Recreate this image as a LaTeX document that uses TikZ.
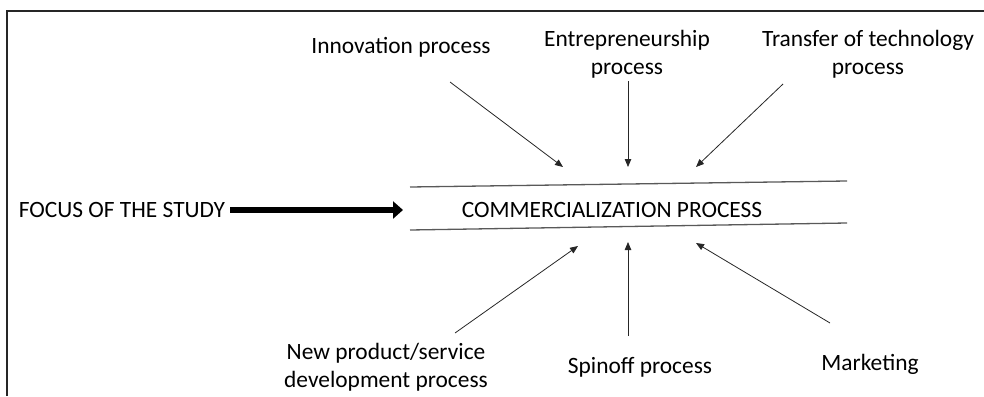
\documentclass[tikz,border=0pt]{standalone}
\usepackage{fontspec}
\setmainfont{Carlito}
\usetikzlibrary{arrows.meta}
\begin{document}
\begin{tikzpicture}[x=1pt,y=-1pt,
  lbl/.style={font=\fontsize{23.4}{28}\selectfont, align=center, inner sep=0pt},
  thin arrow/.style={draw=black!85, line width=0.8pt, -{Triangle[length=8pt,width=6.5pt]}},
  band/.style={draw=black!65, line width=1.3pt},
  frame/.style={draw=black!85, line width=2pt}]
\useasboundingbox (0,0) rectangle (984,396);
% frame
\draw[frame] (7,396) -- (7,11) -- (984,11);
% labels
\node[lbl] (inn) at (401,47) {Innovation process};
\node[lbl] (ent) at (627,54) {Entrepreneurship\\process};
\node[lbl] (tra) at (868,54) {Transfer of technology\\process};
\node[lbl] (foc) at (122,210) {FOCUS OF THE STUDY};
\node[lbl] (com) at (612,210) {COMMERCIALIZATION PROCESS};
\node[lbl] (npd) at (386,367) {New product/service\\development process};
\node[lbl] (spi) at (640,367) {Spinoff process};
\node[lbl] (mar) at (870,364) {Marketing};
% band lines
\coordinate (t1) at (410,187); \coordinate (t2) at (847,181);
\coordinate (b1) at (410,230); \coordinate (b2) at (847,223);
\draw[band] (t1) -- (t2);
\draw[band] (b1) -- (b2);
% arrow end points
\coordinate (innS) at (450,82);  \coordinate (innE) at (563,167);
\coordinate (entS) at (628,81);  \coordinate (entE) at (628,167);
\coordinate (traS) at (783,84);  \coordinate (traE) at (696,167);
\coordinate (npdS) at (455,333); \coordinate (npdE) at (578,246);
\coordinate (spiS) at (628,336); \coordinate (spiE) at (628,242);
\coordinate (marS) at (830,323); \coordinate (marE) at (696,243);
\draw[thin arrow] (innS) -- (innE);
\draw[thin arrow] (entS) -- (entE);
\draw[thin arrow] (traS) -- (traE);
\draw[thin arrow] (npdS) -- (npdE);
\draw[thin arrow] (spiS) -- (spiE);
\draw[thin arrow] (marS) -- (marE);
% thick arrow
\coordinate (focE) at (403,210);
\draw[line width=6.5pt, -{Triangle[length=10pt,width=17pt]}] ([xshift=5pt]foc.east) -- (focE);
\end{tikzpicture}
\end{document}
